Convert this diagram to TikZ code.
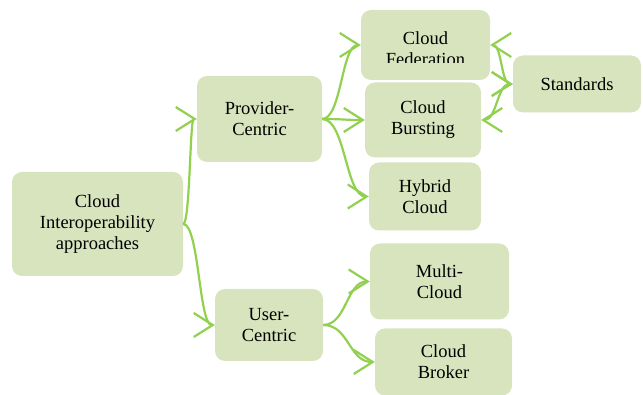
\documentclass[tikz,border=0pt]{standalone}
\usepackage{fontspec}
\setmainfont{Liberation Serif}
\usetikzlibrary{arrows.meta,calc}
\definecolor{boxfill}{HTML}{D7E4BD}
\definecolor{conncol}{HTML}{92D050}
\tikzset{
  box/.style={rectangle, rounded corners=10pt, fill=boxfill, draw=none, inner sep=0pt,
    align=center, font=\fontsize{18.5}{21}\selectfont, text=black},
  barb/.tip={Straight Barb[length=19pt,width=24pt,line width=2.2pt]},
  conn/.style={draw=conncol, line width=2.2pt, -barb},
  bconn/.style={draw=conncol, line width=2.2pt, barb-barb}
}
\newcommand{\sacurve}[3]{%
  \draw[#1] let \p1=(#2), \p2=(#3) in
    (#2) .. controls ({0.5*\x1+0.5*\x2},\y1) and ({0.5*\x1+0.5*\x2},\y2) .. (#3);}
\begin{document}
\begin{tikzpicture}[x=1pt,y=-1pt]
\useasboundingbox (0,0) rectangle (643,395);
\node[box, minimum width=171pt, minimum height=104pt] (root) at (97.5,224) {Cloud\\Interoperability\\approaches};
\node[box, minimum width=125pt, minimum height=86pt] (prov) at (259.5,119) {Provider-\\Centric};
\node[box, minimum width=108pt, minimum height=72pt] (user) at (269,325) {User-\\Centric};
\node[box, minimum width=129pt, minimum height=70pt] (fed) at (425.5,45) {};
\begin{scope}
  \clip (361,0) rectangle (490,63);
  \node[box, fill=none] (fedtxt) at (425.5,49) {Cloud\\Federation};
\end{scope}
\node[box, minimum width=116pt, minimum height=75pt] (burst) at (423,120) {Cloud\\Bursting};
\node[box, minimum width=112pt, minimum height=68pt] (hyb) at (425,196.5) {Hybrid\\Cloud};
\node[box, minimum width=128pt, minimum height=57pt] (std) at (577,84) {Standards};
\node[box, minimum width=139pt, minimum height=76pt] (multi) at (439.5,281.5) {Multi-\\Cloud};
\node[box, minimum width=137pt, minimum height=67pt] (brok) at (443.5,362) {Cloud\\Broker};

\sacurve{conn}{root.east}{prov.west}
\sacurve{conn}{root.east}{user.west}
\sacurve{conn}{prov.east}{fed.west}
\sacurve{conn}{prov.east}{burst.west}
\sacurve{conn}{prov.east}{hyb.west}
\sacurve{conn}{user.east}{multi.west}
\sacurve{conn}{user.east}{brok.west}
\sacurve{bconn}{fed.east}{std.west}
\sacurve{bconn}{burst.east}{std.west}
\end{tikzpicture}
\end{document}
